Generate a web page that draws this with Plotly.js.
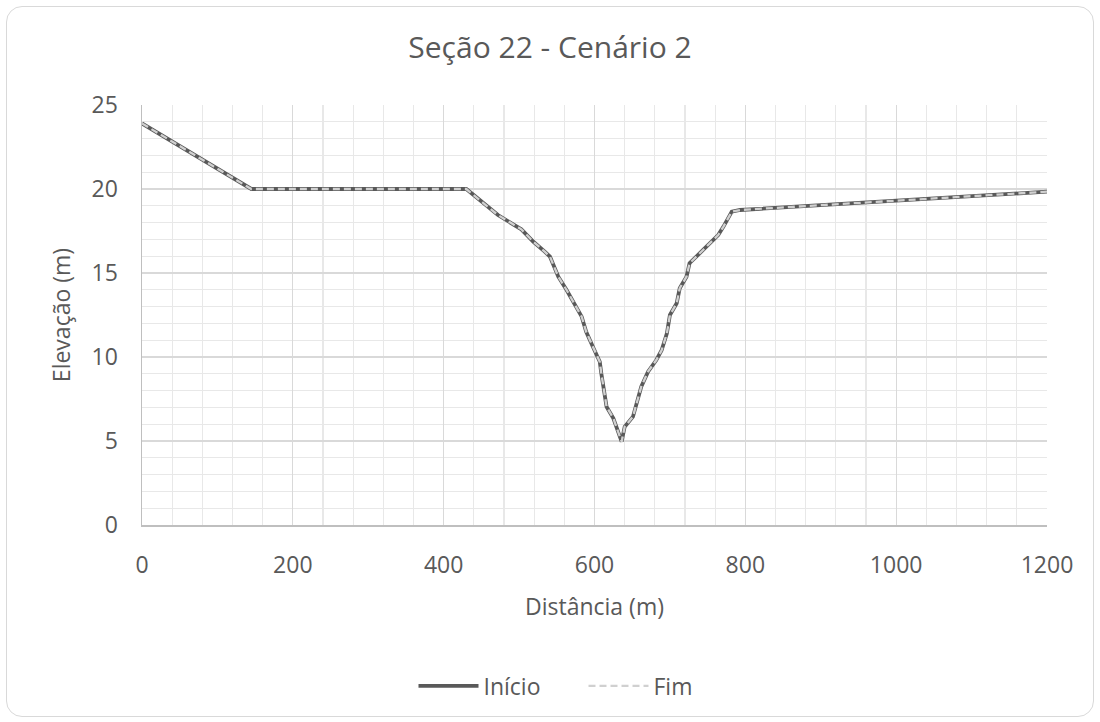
<!DOCTYPE html>
<html>
<head>
<meta charset="utf-8">
<script src="https://cdn.plot.ly/plotly-3.0.1.min.js"></script>
<style>
  html, body { margin: 0; padding: 0; background: #ffffff; }
  #frame { position: absolute; left: 6px; top: 6px; width: 1086px; height: 709px;
           border: 1.5px solid #d9d9d9; border-radius: 16px; }
  #chart { position: absolute; left: 0; top: 0; width: 1100px; height: 722px; }
</style>
</head>
<body>
<div id="frame"></div>
<div id="chart"></div>
<script>
const distancia = [0, 145, 430, 472, 503, 519, 534, 541, 552, 563, 583, 589, 598, 607, 609, 616, 625, 636, 640, 651, 662, 671, 682, 689, 696, 700, 709, 713, 722, 726, 744, 757, 764, 771, 782, 793, 1200];
const inicio =    [23.9, 20.0, 20.0, 18.45, 17.6, 16.86, 16.27, 15.97, 14.78, 13.99, 12.4, 11.5, 10.6, 9.72, 9.03, 7.04, 6.35, 4.96, 5.85, 6.45, 8.23, 9.13, 9.82, 10.4, 11.41, 12.5, 13.2, 14.09, 14.78, 15.58, 16.37, 16.96, 17.26, 17.76, 18.65, 18.75, 19.84];
const fim =       [23.9, 20.0, 20.0, 18.45, 17.6, 16.86, 16.27, 15.97, 14.78, 13.99, 12.4, 11.5, 10.6, 9.72, 9.03, 7.04, 6.35, 4.96, 5.85, 6.45, 8.23, 9.13, 9.82, 10.4, 11.41, 12.5, 13.2, 14.09, 14.78, 15.58, 16.37, 16.96, 17.26, 17.76, 18.65, 18.75, 19.84];
const seriesNames = ['Início', 'Fim'];
const xTicks = [0, 200, 400, 600, 800, 1000, 1200];
const yTicks = [0, 5, 10, 15, 20, 25];

const font = 'Open Sans, sans-serif';
const txt = '#595959';
const traces = [
  { x: distancia, y: inicio, name: seriesNames[0], mode: 'lines',
    line: { color: '#595959', width: 3.8 } },
  { x: distancia, y: fim, name: seriesNames[1], mode: 'lines',
    line: { color: '#d0d0d0', width: 2.3, dash: '7px,4px' } }
];
const layout = {
  width: 1100, height: 722,
  paper_bgcolor: 'rgba(0,0,0,0)', plot_bgcolor: '#ffffff',
  margin: { l: 142, r: 53, t: 105, b: 197 },
  font: { family: font, color: txt, size: 24 },
  title: { text: 'Seção 22 - Cenário 2', font: { family: font, size: 30, color: txt },
           x: 0.5, xanchor: 'center', y: 0.934, yanchor: 'middle' },
  showlegend: true,
  legend: { orientation: 'h', x: 0.3, xanchor: 'left', y: -0.383, yanchor: 'middle',
            font: { size: 23, color: txt }, traceorder: 'normal', itemwidth: 60,
            entrywidth: 95, entrywidthmode: 'pixels' },
  xaxis: { range: [0, 1200], tickvals: xTicks, ticks: '', showline: true, linecolor: '#bfbfbf', linewidth: 1.5,
           gridcolor: '#d9d9d9', gridwidth: 1.3, zeroline: false,
           minor: { dtick: 40, showgrid: true, gridcolor: '#e8e8e8', gridwidth: 1.3 },
           title: { text: 'Distância (m)', font: { size: 23, color: txt }, standoff: 20 },
           ticklabelstandoff: 19, tickfont: { size: 23 } },
  yaxis: { range: [0, 25], tickvals: yTicks, ticks: '', showline: true, linecolor: '#bfbfbf', linewidth: 1.5,
           gridcolor: '#d9d9d9', gridwidth: 1.3, zeroline: false,
           minor: { dtick: 1, showgrid: true, gridcolor: '#e8e8e8', gridwidth: 1.3 },
           title: { text: 'Elevação (m)', font: { size: 23, color: txt }, standoff: 14 },
           ticklabelstandoff: 18, tickfont: { size: 23 } }
};
Plotly.newPlot('chart', traces, layout, { displayModeBar: false, staticPlot: true });
</script>
</body>
</html>
